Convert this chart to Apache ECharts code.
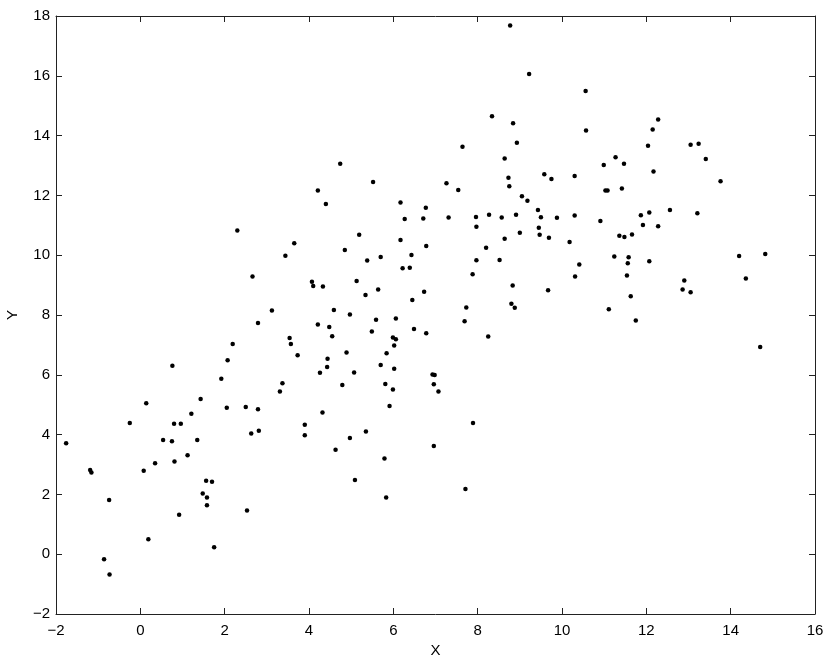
<!DOCTYPE html>
<html>
<head>
<meta charset="utf-8">
<script src="https://cdn.jsdelivr.net/npm/echarts@6/dist/echarts.min.js"></script>
<style>
  html, body { margin: 0; padding: 0; background: #fff; }
  #chart { width: 830px; height: 662px; }
</style>
</head>
<body>
<div id="chart"></div>
<script>
// point coordinates
const xValues = [
  2.30, 3.65, 3.44, 2.66, 3.12, 2.79, 3.54, 3.57, 2.19, 3.73, 2.07, 0.76, 1.92, 3.37, 3.31, 1.43, 0.14, 2.05, 2.50, 2.79, 1.21,
  -0.25, 0.80, 0.96, 3.90, 2.63, 2.81, 3.90, -1.76, 0.54, 0.75, 1.35, 1.12, 0.81, 0.35, -1.19, -1.16, 0.08, 1.56, 1.70, 1.48,
  1.58, -0.74, 1.58, 2.53, 0.92, 0.19, 1.75, -0.86, -0.73,
  8.34, 8.84, 8.93, 7.64, 4.74, 8.64, 9.58, 9.75, 8.73, 8.75, 5.52, 7.26, 7.54, 4.21, 9.05, 9.18, 4.40, 6.17, 6.77, 9.43,
  6.27, 6.71, 7.31, 7.96, 8.27, 8.57, 8.91, 9.50, 9.88, 7.97, 9.45, 9.00, 9.47, 9.69, 8.64, 5.19, 6.17, 4.85, 6.78, 8.20,
  5.70, 5.38, 6.43, 7.97, 8.52, 6.22, 6.39, 7.88, 4.07, 4.10, 4.33, 5.13, 5.64, 5.34, 6.73, 6.45, 8.83, 9.67, 4.59, 4.97,
  7.73, 8.80, 8.88,
  4.21, 4.48, 5.59, 6.06, 7.69, 5.49, 6.49, 6.78, 8.25, 4.55, 5.99, 6.06, 6.02, 4.89, 5.84, 4.44, 4.43, 5.70, 6.02, 4.26,
  5.07, 6.93, 6.98, 4.79, 5.81, 5.99, 6.96, 7.07, 5.91, 4.32, 7.89, 5.35, 4.97, 4.63, 6.96, 5.79, 5.09, 7.71, 5.83,
  10.56, 10.57, 12.28, 12.15, 12.04, 13.05, 13.24, 13.41, 11.27, 10.99, 11.47, 12.17, 10.30, 13.76, 11.03, 11.08, 11.42,
  10.30, 10.91, 11.87, 12.07, 12.56, 13.21, 11.92, 12.28, 10.18, 11.36, 11.48, 11.66, 11.24, 11.58, 14.20, 14.82,
  11.56, 12.07, 10.41, 10.31, 11.54, 14.36, 12.90, 12.86, 13.05, 11.63, 11.11, 11.75, 14.70,
  8.77, 9.22
];
const yValues = [
  10.83, 10.40, 9.98, 9.29, 8.15, 7.73, 7.23, 7.03, 7.03, 6.65, 6.49, 6.30, 5.87, 5.72, 5.44, 5.19, 5.05, 4.90, 4.92, 4.85, 4.70,
  4.39, 4.36, 4.36, 4.33, 4.04, 4.13, 3.98, 3.71, 3.82, 3.78, 3.82, 3.31, 3.10, 3.04, 2.82, 2.73, 2.79, 2.46, 2.42, 2.03,
  1.90, 1.81, 1.64, 1.46, 1.32, 0.50, 0.23, -0.17, -0.68,
  14.65, 14.41, 13.76, 13.63, 13.06, 13.23, 12.71, 12.55, 12.59, 12.31, 12.45, 12.41, 12.18, 12.16, 11.97, 11.82, 11.71, 11.76, 11.59, 11.51,
  11.21, 11.23, 11.26, 11.28, 11.35, 11.26, 11.35, 11.27, 11.25, 10.95, 10.92, 10.75, 10.68, 10.58, 10.55, 10.68, 10.51, 10.17, 10.31, 10.25,
  9.94, 9.82, 10.01, 9.83, 9.84, 9.56, 9.58, 9.36, 9.11, 8.97, 8.95, 9.14, 8.85, 8.67, 8.78, 8.50, 8.99, 8.83, 8.17, 8.02,
  8.25, 8.38, 8.24,
  7.68, 7.60, 7.84, 7.88, 7.79, 7.45, 7.53, 7.39, 7.28, 7.29, 7.25, 7.19, 6.98, 6.75, 6.72, 6.54, 6.26, 6.33, 6.20, 6.07,
  6.08, 6.01, 5.99, 5.66, 5.69, 5.51, 5.68, 5.44, 4.96, 4.74, 4.39, 4.10, 3.89, 3.49, 3.62, 3.20, 2.48, 2.18, 1.90,
  15.49, 14.17, 14.54, 14.20, 13.66, 13.69, 13.73, 13.22, 13.28, 13.02, 13.06, 12.80, 12.65, 12.47, 12.16, 12.16, 12.23,
  11.33, 11.14, 11.34, 11.43, 11.51, 11.40, 11.01, 10.97, 10.44, 10.65, 10.61, 10.69, 9.96, 9.93, 9.97, 10.04,
  9.73, 9.80, 9.69, 9.29, 9.32, 9.22, 9.15, 8.85, 8.76, 8.63, 8.19, 7.82, 6.93,
  17.68, 16.06
];

const xRange = [-2, 16];
const yRange = [-2, 18];
const tickStep = 2;

const points = xValues.map((x, i) => [x, yValues[i]]);

const minusSign = v => String(v).replace('-', '\u2212');
const font = 'Liberation Sans, Arial, Helvetica, sans-serif';
const frame = { show: true, onZero: false, lineStyle: { color: '#222', width: 1 } };
const ticks = { show: true, inside: true, length: 6, lineStyle: { color: '#222' } };

const chart = echarts.init(document.getElementById('chart'));
chart.setOption({
  animation: false,
  backgroundColor: '#fff',
  grid: { left: 56, right: 15, top: 16, bottom: 48, containLabel: false, outerBoundsMode: 'none' },
  xAxis: [
    {
      type: 'value', min: xRange[0], max: xRange[1], interval: tickStep,
      name: 'X', nameLocation: 'middle', nameGap: 27,
      nameTextStyle: { color: '#000', fontSize: 15, fontFamily: font },
      axisLine: frame, axisTick: ticks, splitLine: { show: false },
      axisLabel: { color: '#000', fontSize: 15, fontFamily: font, margin: 9, formatter: minusSign }
    },
    {
      type: 'value', position: 'top', min: xRange[0], max: xRange[1], interval: tickStep,
      axisLine: frame, axisTick: ticks, splitLine: { show: false }, axisLabel: { show: false }
    }
  ],
  yAxis: [
    {
      type: 'value', min: yRange[0], max: yRange[1], interval: tickStep,
      name: 'Y', nameLocation: 'middle', nameGap: 36, nameRotate: 90,
      nameTextStyle: { color: '#000', fontSize: 15, fontFamily: font },
      axisLine: frame, axisTick: ticks, splitLine: { show: false },
      axisLabel: { color: '#000', fontSize: 15, fontFamily: font, margin: 6, formatter: minusSign }
    },
    {
      type: 'value', position: 'right', min: yRange[0], max: yRange[1], interval: tickStep,
      axisLine: frame, axisTick: ticks, splitLine: { show: false }, axisLabel: { show: false }
    }
  ],
  series: [
    {
      type: 'scatter',
      xAxisIndex: 0,
      yAxisIndex: 0,
      symbol: 'circle',
      symbolSize: 4.5,
      itemStyle: { color: '#000', opacity: 1 },
      data: points
    }
  ]
});
</script>
</body>
</html>
